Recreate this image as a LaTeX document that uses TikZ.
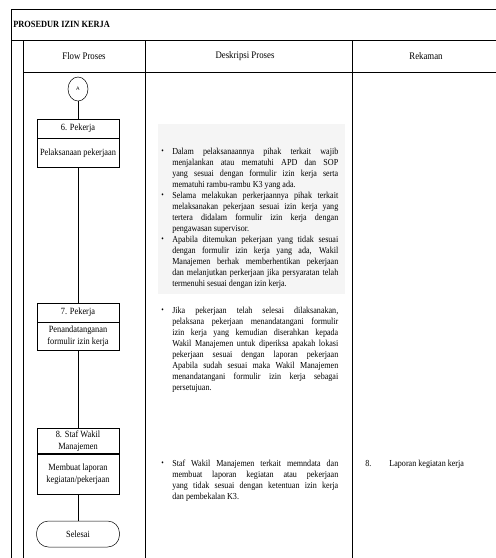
\documentclass[tikz,border=0pt]{standalone}
\usepackage{fontspec}
\setmainfont[FakeStretch=0.88]{Liberation Serif}
\usepackage{tikz}
\usetikzlibrary{positioning, shapes.geometric}

\begin{document}
\begin{tikzpicture}[x=1pt, y=-1pt, line width=0.6pt,
    every node/.style={font=\fontsize{9.2}{11}\selectfont},
    flowhd/.style={draw, line width=0.5pt, minimum width=82pt, minimum height=19pt, inner sep=1pt, align=center, font=\fontsize{9.5}{12}\selectfont},
    flowbd/.style={flowhd, minimum height=28pt},
    desc/.style={anchor=north west, inner sep=0pt, text width=166pt, align=justify},
    bul/.style={inner sep=0pt, font=\fontsize{8}{8}\selectfont},
    kolom/.style={font=\fontsize{10}{12}\selectfont},
    link/.style={line width=0.5pt}]
    \useasboundingbox (0,0) rectangle (496,558);
    % Tabel
    \fill[gray!8] (158,124) rectangle (345,294);
    \draw (11,558) -- (11,9) -- (496,9);
    \draw (11,40) -- (496,40);
    \draw (23,40) -- (23,558);
    \draw (23,72) -- (496,72);
    \draw (145,40) -- (145,558);
    \draw (352,40) -- (352,558);
    \node[font=\fontsize{9.5}{10}\selectfont\bfseries, anchor=west, inner sep=0pt] (judul) at (13,24) {PROSEDUR IZIN KERJA};
    \node[kolom] (kol1) at (84,56) {Flow Proses};
    \node[kolom] (kol2) at (245,56) {Deskripsi Proses};
    \node[kolom] (kol3) at (426,56) {Rekaman};

    % Flow proses
    \node[draw, ellipse, line width=0.5pt, minimum width=20pt, minimum height=24pt, inner sep=0pt, font=\fontsize{5}{6}\sffamily] (circA) at (78,89) {A};
    \node[flowhd] (p6h) at (78,128.5) {6. Pekerja};
    \node[flowbd, minimum height=29pt, below=0pt of p6h] (p6b) {Pelaksanaan pekerjaan};
    \node[flowhd] (p7h) at (78,312.5) {7. Pekerja};
    \node[flowbd, below=0pt of p7h] (p7b) {Penandatanganan\\formulir izin kerja};
    \node[flowhd, minimum height=25pt] (p8h) at (78,441) {8. Staf Wakil\\Manajemen};
    \node[flowbd, minimum height=40pt, below=0pt of p8h] (p8b) {Membuat laporan\\kegiatan/pekerjaan};
    \node[draw, line width=0.5pt, rounded corners=12pt, minimum width=83pt, minimum height=26pt, font=\fontsize{9.5}{12}\selectfont] (selesai) at (78,534) {Selesai};
    \draw[link] (circA) -- (p6h);
    \draw[link] (p6b) -- (p7h);
    \draw[link] (p7b) -- (p8h);
    \draw[link] (p8b) -- (selesai);

    % Deskripsi proses
    \node[desc] (d1) at (172,148) {Dalam pelaksanaannya pihak terkait wajib\linebreak
      menjalankan atau mematuhi APD dan SOP\linebreak
      yang sesuai dengan formulir izin kerja serta\linebreak
      mematuhi rambu-rambu K3 yang ada.};
    \node[desc] (d2) at (172,192) {Selama melakukan perkerjaannya pihak terkait\linebreak
      melaksanakan pekerjaan sesuai izin kerja yang\linebreak
      tertera didalam formulir izin kerja dengan\linebreak
      pengawasan supervisor.};
    \node[desc] (d3) at (172,236) {Apabila ditemukan pekerjaan yang tidak sesuai\linebreak
      dengan formulir izin kerja yang ada, Wakil\linebreak
      Manajemen berhak memberhentikan pekerjaan\linebreak
      dan melanjutkan perkerjaan jika persyaratan telah\linebreak
      termenuhi sesuai dengan izin kerja.};
    \node[desc] (d4) at (172,307) {Jika pekerjaan telah selesai dilaksanakan,\linebreak
      pelaksana pekerjaan menandatangani formulir\linebreak
      izin kerja yang kemudian diserahkan kepada\linebreak
      Wakil Manajemen untuk diperiksa apakah lokasi\linebreak
      pekerjaan sesuai dengan laporan pekerjaan\linebreak
      Apabila sudah sesuai maka Wakil Manajemen\linebreak
      menandatangani formulir izin kerja sebagai\linebreak
      persetujuan.};
    \node[desc] (d5) at (172,459.5) {Staf Wakil Manajemen terkait memndata dan\linebreak
      membuat laporan kegiatan atau pekerjaan\linebreak
      yang tidak sesuai dengan ketentuan izin kerja\linebreak
      dan pembekalan K3.};
    \node[bul] (u1) at (162.5,152) {\textbullet};
    \node[bul] (u2) at (162.5,196) {\textbullet};
    \node[bul] (u3) at (162.5,240) {\textbullet};
    \node[bul] (u4) at (162.5,311) {\textbullet};
    \node[bul] (u5) at (162.5,463.5) {\textbullet};

    % Rekaman
    \node[anchor=west, inner sep=0pt] (rek8) at (365,464) {8.\hspace{18pt}Laporan kegiatan kerja};
\end{tikzpicture}
\end{document}
